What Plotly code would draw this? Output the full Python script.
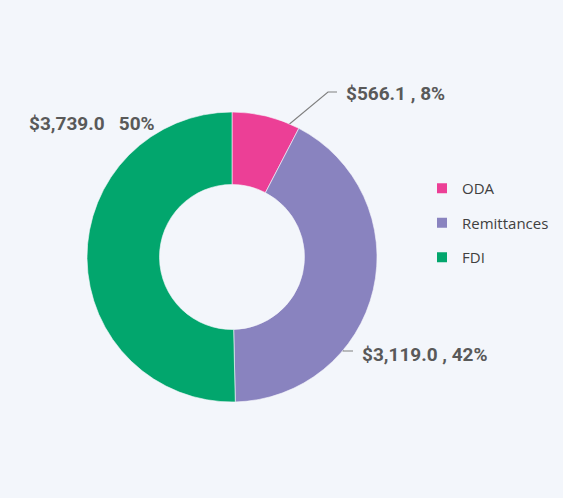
"""Donut chart: ODA vs Remittances vs FDI."""

import math

import plotly.graph_objects as go

LABELS = ["ODA", "Remittances", "FDI"]
VALUES = [566.1, 3119.0, 3739.0]
COLORS = ["#ec3f96", "#8983bf", "#02a66d"]

# Layout geometry (pixels)
W, H = 563, 498
CX, CY, R = 232, 257, 145
HOLE = 0.5
BG = "#f3f6fb"
TEXT_COLOR = "#595959"
LINE_COLOR = "#808080"

# label text anchor and leader-line elbow for each slice (None = no leader)
LABEL_TEXT_POS = [(344, 93), (360, 354), (27, 123)]
LABEL_ELBOW = [((328, 92), (337, 92)), ((343, 351), (353, 351)), None]


def fmt_label(v, pct, hide_comma=False):
    comma = f"<span style='color:{BG}'>,</span>" if hide_comma else ","
    return f"${v:,.1f} {comma} {pct:.0f}%"


total = sum(VALUES)
fig = go.Figure()

fig.add_trace(
    go.Pie(
        labels=LABELS,
        values=VALUES,
        hole=HOLE,
        sort=False,
        direction="clockwise",
        rotation=0,
        textinfo="none",
        marker=dict(colors=COLORS, line=dict(color="#f6f6fb", width=0.6)),
        showlegend=False,
        domain=dict(
            x=[(CX - R) / W, (CX + R) / W],
            y=[1 - (CY + R) / H, 1 - (CY - R) / H],
        ),
    )
)

# leader lines and labels
cum = 0.0
for i, v in enumerate(VALUES):
    frac = v / total
    mid = (cum + frac / 2) * 2 * math.pi
    cum += frac
    ax = CX + 0.76 * R * math.sin(mid)
    ay = CY - 0.76 * R * math.cos(mid)
    if LABEL_ELBOW[i] is not None:
        (ex, ey), (fx, fy) = LABEL_ELBOW[i]
        fig.add_trace(
            go.Scatter(
                x=[ax, ex, fx],
                y=[ay, ey, fy],
                mode="lines",
                line=dict(color=LINE_COLOR, width=1.2),
                hoverinfo="skip",
                showlegend=False,
            )
        )
    tx, ty = LABEL_TEXT_POS[i]
    fig.add_annotation(
        x=tx,
        y=ty,
        xref="x",
        yref="y",
        text=f"<b>{fmt_label(v, frac * 100, hide_comma=(i == 2))}</b>",
        showarrow=False,
        xanchor="left",
        yanchor="middle",
        font=dict(family="Roboto", size=19, color=TEXT_COLOR),
    )

# legend entries
for lab, col in zip(LABELS, COLORS):
    fig.add_trace(
        go.Scatter(
            x=[None],
            y=[None],
            mode="markers",
            name=lab,
            legendgroup=lab,
            marker=dict(symbol="square", size=10, color=col),
        )
    )

fig.update_layout(
    width=W,
    height=H,
    paper_bgcolor=BG,
    plot_bgcolor=BG,
    margin=dict(l=0, r=0, t=0, b=0),
    xaxis=dict(range=[0, W], visible=False, fixedrange=True),
    yaxis=dict(range=[H, 0], visible=False, fixedrange=True),
    legend=dict(
        x=422 / W,
        y=1 - 172 / H,
        xanchor="left",
        yanchor="top",
        bgcolor="rgba(0,0,0,0)",
        font=dict(family="Open Sans", size=15, color="#404040"),
        tracegroupgap=12,
    ),
)

fig.write_html(
    "out.html",
    config={"displayModeBar": False},
    post_script="document.body.style.margin='0';",
)
